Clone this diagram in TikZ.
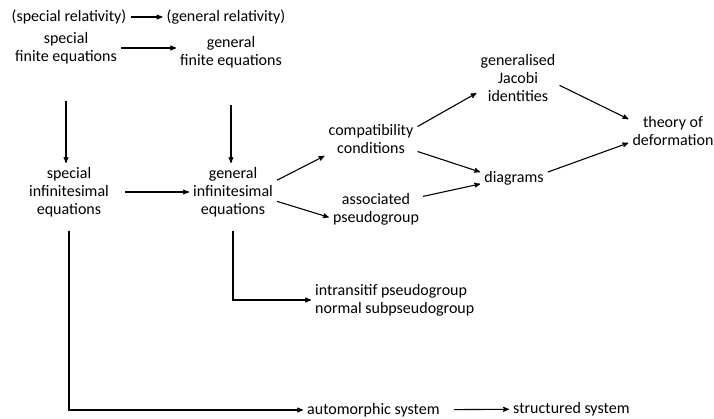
\documentclass[tikz,border=0pt]{standalone}
\usepackage{fontspec}
\setmainfont{Carlito}
\usetikzlibrary{arrows, positioning}

\begin{document}
\begin{tikzpicture}[x=1pt, y=-1pt]
\tikzset{edge/.style = {->,> = stealth', line width=1.1pt},
         lbl/.style = {align=center, inner sep=4pt, font=\fontsize{16}{18}\selectfont}}
\useasboundingbox (0,0) rectangle (714,418);
            % vertices
	\node[lbl] (sr) at (69,17) {(special relativity)};
	\node[lbl] (gr) at (226,17) {(general relativity)};
	\node[lbl] (sfe) at (66,48) {special\\finite equations};
	\node[lbl] (gfe) at (231,52) {general\\finite equations};
	\node[lbl] (sie) at (69,192) {special\\infinitesimal\\equations};
	\node[lbl] (gie) at (233,192) {general\\infinitesimal\\equations};
	\node[lbl] (cc) at (371,139) {compatibility\\conditions};
	\node[lbl] (ap) at (376,209) {associated\\pseudogroup};
	\node[lbl] (gji) at (518,78) {generalised\\Jacobi\\identities};
	\node[lbl] (dia) at (514,178) {diagrams};
	\node[lbl] (tod) at (673,131) {theory of\\deformation};
	\node[lbl, align=left, anchor=west] (ip) at (311,300) {intransitif pseudogroup\\normal subpseudogroup};
	\node[lbl, anchor=west] (as) at (303,410) {automorphic system};
	\node[lbl, anchor=west] (ss) at (509,409) {structured system};
            %edges
	\draw[edge] (sr) to (gr);
	\draw[edge] (sfe) to (sfe -| gfe.west);
	\draw[edge, shorten <=33pt] (sfe) to (sfe |- sie.north);
	\draw[edge, shorten <=33pt] (gfe) to (gfe |- gie.north);
	\draw[edge, shorten <=12pt] (sie) to (sie -| gie.west);
	\draw[edge] (gie.15) to (cc.200);
	\draw[edge] (gie.-12) to (ap.190);
	\draw[edge] (cc.15) to (gji.200);
	\draw[edge] (cc.-15) to (dia.170);
	\draw[edge] (ap.15) to (dia.190);
	\draw[edge] (gji.-10) to (tod.165);
	\draw[edge] (dia.10) to (tod.195);
	\draw[edge, shorten <=10pt] (sie.south) |- (as.west);
	\draw[edge, shorten <=10pt] (gie.south) |- (ip.west);
	\draw[edge, shorten <=10pt] (as) to (ss);
\end{tikzpicture}
\end{document}
